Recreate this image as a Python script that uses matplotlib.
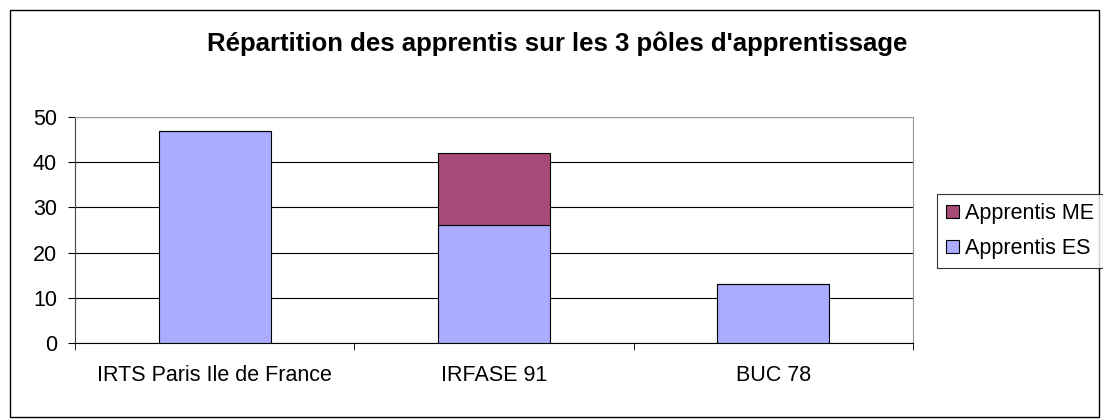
import matplotlib.pyplot as plt
from matplotlib.patches import Rectangle

categories = ["IRTS Paris Ile de France", "IRFASE 91", "BUC 78"]
apprentis_es = [47, 26, 13]
apprentis_me = [0, 16, 0]

W, H = 1103, 419
plt.rcParams['font.family'] = ['Liberation Sans', 'DejaVu Sans']
fig = plt.figure(figsize=(W / 100, H / 100), dpi=100)

# outer chart frame
fig.patches.append(Rectangle((10 / W, 2 / H), (1099 - 10) / W, (409 - 2) / H,
                             transform=fig.transFigure, fill=False,
                             edgecolor='black', linewidth=1))

left, right, top, bottom = 75, 913, 117, 343
ax = fig.add_axes([left / W, 1 - bottom / H, (right - left) / W, (bottom - top) / H])

x = list(range(len(categories)))
ax.bar(x, apprentis_es, width=0.4, color='#a9acff', edgecolor='black',
       linewidth=0.8, label='Apprentis ES', zorder=3)
ax.bar(x, apprentis_me, width=0.4, bottom=apprentis_es, color='#a84a78',
       edgecolor='black', linewidth=0.8, label='Apprentis ME', zorder=3)

ax.set_xlim(-0.5, 2.5)
ax.set_ylim(0, 50)
ax.set_yticks(range(0, 51, 10))
ax.yaxis.grid(True, color='black', linewidth=0.8, zorder=0)
ax.set_xticks(x)
ax.set_xticklabels(categories)
ax.set_xticks([-0.5, 0.5, 1.5, 2.5], minor=True)
ax.tick_params(axis='x', which='major', length=0, pad=16, labelsize=15.5)
ax.tick_params(axis='x', which='minor', length=5, direction='out')
ax.tick_params(axis='y', length=5, direction='out', labelsize=15.5, pad=8)

for side in ['top', 'right']:
    ax.spines[side].set_color('#999999')
    ax.spines[side].set_linewidth(0.8)
ax.spines['left'].set_linewidth(0.8)
ax.spines['left'].set_color('#444444')
ax.spines['bottom'].set_linewidth(0.8)

fig.text(557 / W, 1 - 51 / H, "Répartition des apprentis sur les 3 pôles d'apprentissage",
         ha='center', va='baseline', fontsize=18.5, fontweight='bold')

handles, labels = ax.get_legend_handles_labels()
leg = fig.legend(handles[::-1], labels[::-1], loc='center left',
                 bbox_to_anchor=(937 / W, 1 - 231 / H), fontsize=15.5,
                 frameon=True, fancybox=False, edgecolor='black',
                 handlelength=0.6, handleheight=0.6, handletextpad=0.3,
                 borderpad=0.4, labelspacing=0.65, borderaxespad=0)
leg.get_frame().set_linewidth(0.8)

fig.savefig('out.png', dpi=100)
